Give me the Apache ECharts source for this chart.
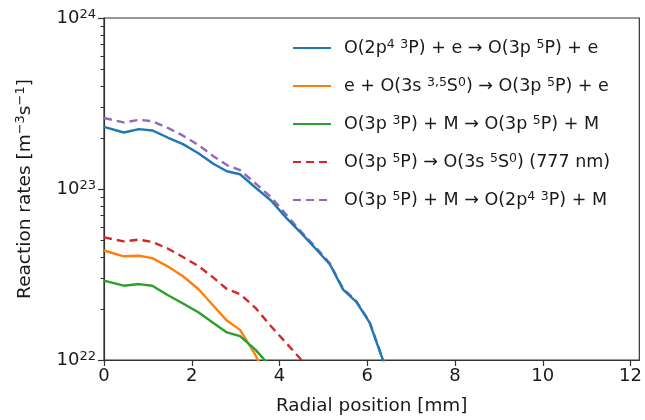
<!DOCTYPE html>
<html>
<head>
<meta charset="utf-8">
<script src="https://cdn.jsdelivr.net/npm/echarts@6/dist/echarts.min.js"></script>
<style>
  html, body { margin: 0; padding: 0; background: #fff; }
  #chart { width: 645px; height: 420px; }
</style>
</head>
<body>
<div id="chart"></div>
<script>
// Radial positions [mm] shared by all profiles
const radialPos = [0, 0.45, 0.8, 1.1, 1.45, 1.8, 2.15, 2.5, 2.8, 3.1, 3.45, 3.8, 4.15, 4.5, 4.85, 5.15, 5.45, 5.75, 6.05, 6.35, 6.65];

// Reaction rates [m^-3 s^-1]; null where the profile has ended
const rateExcitation = [2.31e23, 2.14e23, 2.24e23, 2.20e23, 2.00e23, 1.83e23, 1.62e23, 1.40e23, 1.27e23, 1.22e23, 1.02e23, 8.6e22, 6.8e22, 5.5e22, 4.4e22, 3.62e22, 2.58e22, 2.19e22, 1.66e22, 1.01e22, 0.62e22];
const rateMetastable = [4.37e22, 4.04e22, 4.07e22, 3.94e22, 3.53e22, 3.09e22, 2.60e22, 2.07e22, 1.70e22, 1.50e22, 1.07e22, 0.71e22, null, null, null, null, null, null, null, null, null];
const rateTransfer = [2.91e22, 2.72e22, 2.78e22, 2.72e22, 2.40e22, 2.14e22, 1.90e22, 1.64e22, 1.45e22, 1.38e22, 1.15e22, 0.91e22, null, null, null, null, null, null, null, null, null];
const rateEmission = [5.21e22, 4.94e22, 5.06e22, 4.90e22, 4.49e22, 4.00e22, 3.55e22, 3.02e22, 2.60e22, 2.43e22, 2.02e22, 1.58e22, 1.26e22, 1.00e22, 0.74e22, null, null, null, null, null, null];
const rateQuenching = [2.60e23, 2.45e23, 2.54e23, 2.49e23, 2.28e23, 2.05e23, 1.81e23, 1.55e23, 1.38e23, 1.29e23, 1.08e23, 9.0e22, 7.1e22, 5.6e22, 4.5e22, 3.66e22, 2.61e22, 2.21e22, 1.68e22, 1.02e22, 0.63e22];

// Legend labels (rich-text markup: {s|...} is a superscript)
const seriesNames = [
  'O(2p{s|4} {s|3}P) + e \u2192 O(3p {s|5}P) + e',
  'e + O(3s {s|3,5}S{s|0}) \u2192 O(3p {s|5}P) + e',
  'O(3p {s|3}P) + M \u2192 O(3p {s|5}P) + M',
  'O(3p {s|5}P) \u2192 O(3s {s|5}S{s|0}) (777 nm)',
  'O(3p {s|5}P) + M \u2192 O(2p{s|4} {s|3}P) + M'
];
const seriesColors = ['#1f77b4', '#ff7f0e', '#2ca02c', '#d62728', '#9467bd'];
const seriesDashed = [false, false, false, true, true];
const seriesValues = [rateExcitation, rateMetastable, rateTransfer, rateEmission, rateQuenching];

// Axis ticks
const xTicks = [0, 2, 4, 6, 8, 10, 12];
const yExpMin = 22;
const yExpMax = 24;
// Minor log ticks: 2..9 x 10^d within each decade
const yMinor = [];
for (let d = yExpMin; d < yExpMax; d++) {
  for (let m = 2; m <= 9; m++) yMinor.push(m * Math.pow(10, d));
}

const textColor = '#1a1a1a';
const axisColor = '#333';
const font = 'DejaVu Sans';
const supStyle = { fontSize: 12.5, lineHeight: 8, verticalAlign: 'top', color: textColor, fontFamily: font };

const chart = echarts.init(document.getElementById('chart'), null, { renderer: 'canvas' });

const series = seriesNames.map((name, i) => ({
  name: name,
  type: 'line',
  data: radialPos.map((x, j) => [x, seriesValues[i][j]]).filter(p => p[1] !== null),
  showSymbol: false,
  symbol: 'none',
  clip: true,
  lineStyle: {
    color: seriesColors[i],
    width: 2.4,
    type: seriesDashed[i] ? [8, 5] : 'solid'
  },
  itemStyle: { color: seriesColors[i] },
  z: i === 4 ? 1 : 2
}));

chart.setOption({
  animation: false,
  textStyle: { fontFamily: font },
  grid: {
    left: 104, right: 2, top: 18, bottom: 59,
    show: true, borderColor: axisColor, borderWidth: 1.2
  },
  legend: {
    orient: 'vertical',
    left: 287,
    top: 33,
    itemWidth: 38,
    itemHeight: 14,
    itemGap: 18,
    data: seriesNames,
    itemStyle: { opacity: 0 },
    textStyle: {
      fontSize: 17.5,
      lineHeight: 20,
      color: textColor,
      fontFamily: font,
      padding: [0, 0, 0, 8],
      rich: { s: supStyle }
    }
  },
  xAxis: {
    type: 'value',
    min: 0,
    max: 12.2,
    name: 'Radial position [mm]',
    nameLocation: 'middle',
    nameGap: 37,
    nameTextStyle: { fontSize: 18.4, color: textColor, fontFamily: font },
    axisLine: { show: true, lineStyle: { color: axisColor, width: 1.2 } },
    axisTick: { show: true, length: 6, customValues: xTicks, lineStyle: { color: axisColor, width: 1.2 } },
    axisLabel: { customValues: xTicks, fontSize: 18, color: textColor, margin: 7, fontFamily: font },
    splitLine: { show: false }
  },
  yAxis: {
    type: 'log',
    logBase: 10,
    min: Math.pow(10, yExpMin),
    max: Math.pow(10, yExpMax),
    interval: 1,
    name: 'Reaction rates [m{s|\u22123}s{s|\u22121}]',
    nameLocation: 'middle',
    nameRotate: 90,
    nameGap: 68,
    nameTextStyle: { fontSize: 18.5, lineHeight: 22, color: textColor, fontFamily: font, rich: { s: { fontSize: 13, lineHeight: 8, verticalAlign: 'top', color: textColor, fontFamily: font } } },
    axisLine: { show: true, lineStyle: { color: axisColor, width: 1.2 } },
    axisTick: { show: true, length: 6, lineStyle: { color: axisColor, width: 1.2 } },
    axisLabel: {
      showMaxLabel: true,
      showMinLabel: true,
      margin: 8,
      formatter: v => '{b|10}{s|' + Math.round(Math.log10(v)) + '}',
      rich: {
        b: { fontSize: 18, lineHeight: 20, color: textColor, fontFamily: font },
        s: { fontSize: 13, lineHeight: 8, verticalAlign: 'top', color: textColor, fontFamily: font }
      }
    },
    splitLine: { show: false }
  },
  series: series
});

// Minor ticks on the left spine, positioned through the y axis' log scale
const axisX = chart.convertToPixel({ xAxisIndex: 0 }, 0);
chart.setOption({
  graphic: yMinor.map(v => {
    const y = Math.round(chart.convertToPixel({ yAxisIndex: 0 }, v)) + 0.5;
    return {
      type: 'line',
      silent: true,
      z: 10,
      shape: { x1: axisX - 3.5, y1: y, x2: axisX, y2: y },
      style: { stroke: axisColor, lineWidth: 1 }
    };
  })
});
</script>
</body>
</html>
